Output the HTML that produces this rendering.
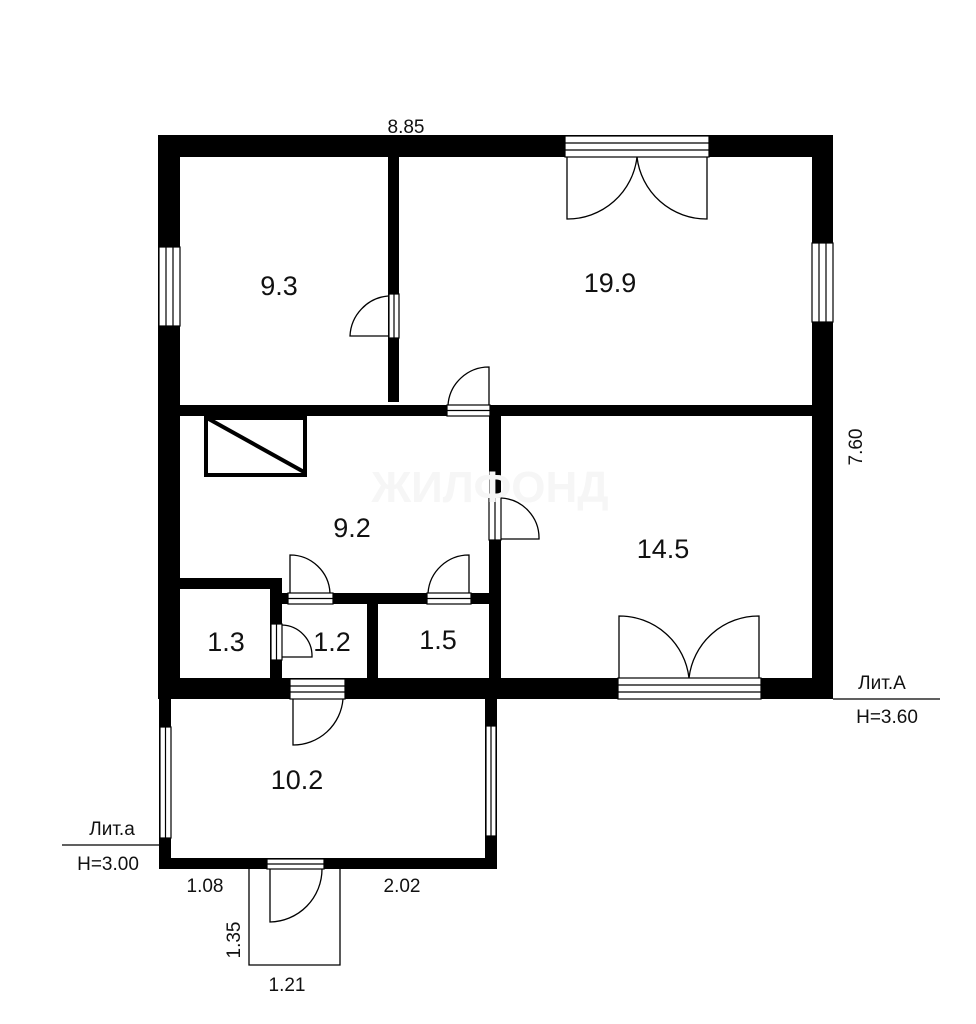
<!DOCTYPE html>
<html><head><meta charset="utf-8"><style>
html,body{margin:0;padding:0;background:#fff;}
svg{display:block;}
text{font-family:"Liberation Sans","DejaVu Sans",sans-serif;fill:#111;}
</style></head><body>
<svg width="976" height="1024" viewBox="0 0 976 1024" xmlns="http://www.w3.org/2000/svg">
<rect width="976" height="1024" fill="#fff"/>
<g fill="#000">
<rect x="158" y="135" width="675" height="22"/>
<rect x="158" y="135" width="22" height="564"/>
<rect x="812" y="135" width="21" height="564"/>
<rect x="158" y="678" width="675" height="21"/>
<rect x="388" y="157" width="11" height="245"/>
<rect x="180" y="405" width="632" height="11"/>
<rect x="489" y="416" width="12" height="262"/>
<rect x="180" y="578" width="101" height="11"/>
<rect x="270" y="578" width="12" height="100"/>
<rect x="270" y="593" width="219" height="11"/>
<rect x="367" y="603" width="11" height="75"/>
<rect x="159" y="699" width="12" height="170"/>
<rect x="159" y="858" width="338" height="11"/>
<rect x="485" y="699" width="12" height="170"/>
</g>
<rect x="206" y="418" width="99" height="57" fill="none" stroke="#000" stroke-width="4"/>
<line x1="207" y1="418" x2="304" y2="472" stroke="#000" stroke-width="4"/>
<g fill="#fff" stroke="#000" stroke-width="1.2">
<rect x="159" y="247" width="21" height="79"/><line x1="166" y1="247" x2="166" y2="326"/><line x1="173" y1="247" x2="173" y2="326"/>
<rect x="812" y="243" width="21" height="79"/><line x1="819" y1="243" x2="819" y2="322"/><line x1="826" y1="243" x2="826" y2="322"/>
<rect x="565" y="136" width="144" height="21"/><line x1="565" y1="143" x2="709" y2="143"/><line x1="565" y1="150" x2="709" y2="150"/>
<rect x="618" y="678" width="143" height="21"/><line x1="618" y1="685" x2="761" y2="685"/><line x1="618" y1="692" x2="761" y2="692"/>
<rect x="160" y="727" width="11" height="111"/><line x1="165.5" y1="727" x2="165.5" y2="838"/>
<rect x="486" y="726" width="10" height="110"/><line x1="491" y1="726" x2="491" y2="836"/>
<rect x="389" y="294" width="10" height="44"/><line x1="394" y1="294" x2="394" y2="338"/>
<rect x="447" y="405" width="43" height="11"/><line x1="447" y1="410.5" x2="490" y2="410.5"/>
<rect x="489" y="497" width="12" height="43"/><line x1="495" y1="497" x2="495" y2="540"/>
<rect x="288" y="593" width="45" height="11"/><line x1="288" y1="598.5" x2="333" y2="598.5"/>
<rect x="427" y="593" width="44" height="11"/><line x1="427" y1="598.5" x2="471" y2="598.5"/>
<rect x="271" y="624" width="11" height="36"/><line x1="276.5" y1="624" x2="276.5" y2="660"/>
<rect x="290" y="679" width="55" height="20"/><line x1="290" y1="686" x2="345" y2="686"/><line x1="290" y1="692" x2="345" y2="692"/>
<rect x="267" y="859" width="57" height="10"/><line x1="267" y1="864" x2="324" y2="864"/>
</g>
<g fill="none" stroke="#000" stroke-width="1.3">
<path d="M388 296 A42 42 0 0 0 350 336 L388 336"/>
<path d="M489 405 L489 367 A41 41 0 0 0 448 405"/>
<path d="M501 539 L539 539 A40 40 0 0 0 501 498"/>
<path d="M290 593 L290 555 A40 40 0 0 1 330 593"/>
<path d="M469 593 L469 555 A41 41 0 0 0 428 593"/>
<path d="M282 657 L312 657 A31 31 0 0 0 282 625"/>
<path d="M293 699 L293 745 A50 50 0 0 0 343 699"/>
<path d="M270 869 L270 922 A53 53 0 0 0 322 869"/>
<path d="M567 157 L567 219 A70 70 0 0 0 637 157"/>
<path d="M707 157 L707 219 A70 70 0 0 1 637 157"/>
<path d="M619 678 L619 616 A70 70 0 0 1 689 678"/>
<path d="M759 678 L759 616 A70 70 0 0 0 689 678"/>
<polyline points="249,869 249,965 340,965 340,869"/>
<line x1="833" y1="699" x2="940" y2="699"/>
<line x1="62" y1="845" x2="160" y2="845"/>
</g>
<text x="490" y="502" font-size="44" font-weight="bold" text-anchor="middle" style="fill:#f6f6f6">ЖИЛФОНД</text>
<g font-size="27" text-anchor="middle">
<text x="279" y="295">9.3</text>
<text x="610" y="292">19.9</text>
<text x="352" y="537">9.2</text>
<text x="663" y="558">14.5</text>
<text x="226" y="651">1.3</text>
<text x="332" y="651">1.2</text>
<text x="438" y="649">1.5</text>
<text x="297" y="789">10.2</text>
</g>
<g font-size="19">
<text x="406" y="133" text-anchor="middle">8.85</text>
<text x="882" y="689" text-anchor="middle">Лит.А</text>
<text x="887" y="723" text-anchor="middle">H=3.60</text>
<text x="112" y="835" text-anchor="middle">Лит.а</text>
<text x="108" y="870" text-anchor="middle">H=3.00</text>
<text x="205" y="892" text-anchor="middle">1.08</text>
<text x="402" y="892" text-anchor="middle">2.02</text>
<text x="287" y="991" text-anchor="middle">1.21</text>
<text transform="translate(862,447) rotate(-90)" text-anchor="middle">7.60</text>
<text transform="translate(240,940) rotate(-90)" text-anchor="middle">1.35</text>
</g>
</svg>
</body></html>
